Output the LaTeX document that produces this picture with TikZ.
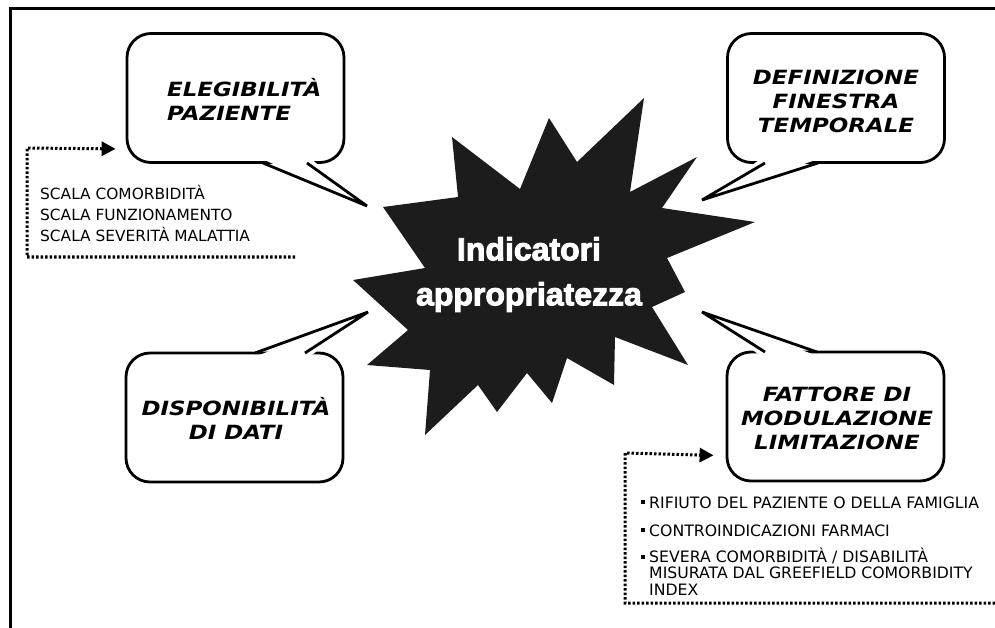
\documentclass[tikz,border=0pt]{standalone}
\usepackage{fontspec}
\usepackage{tikz}
\usetikzlibrary{positioning}
\usetikzlibrary{arrows.meta}
\newfontfamily\bubblefont[FakeStretch=1.17]{DejaVu Sans}
\newfontfamily\listfont{DejaVu Sans}
\newfontfamily\starfont[BoldFeatures={FakeBold=3}]{Liberation Sans}
\definecolor{burst}{RGB}{28,28,28}
\tikzstyle{every bubble} = []
\tikzstyle{bubble} = [draw, fill=white, rounded corners=24pt, line width=2.8pt, minimum width=217pt, minimum height=129pt, inner sep=0pt, every bubble]
\tikzstyle{bubbletail} = [draw, line width=2.8pt, line join=bevel]
\tikzstyle{tailfill} = [fill=white]
\tikzstyle{bubbletext} = [font=\bubblefont\bfseries\itshape\fontsize{19.6}{24}\selectfont, align=center, inner sep=0pt]
\tikzstyle{listtext} = [font=\listfont\fontsize{15.4}{21.2}\selectfont, align=left, inner sep=0pt]
\tikzstyle{itemtext} = [font=\listfont\fontsize{15.7}{16.5}\selectfont, align=left, inner sep=0pt]
\tikzstyle{dotlink} = [>={Triangle[length=14pt,width=14pt]}, draw, line width=3pt, dash pattern=on 2.5pt off 2pt, ->]
\newcommand{\sqbul}{\makebox[8pt][l]{\rule[3.6pt]{4pt}{4pt}}}

\begin{document}
\begin{tikzpicture}[x=1pt,y=-1pt]
\useasboundingbox (0,0) rectangle (995,628);
\draw[line width=3pt] (10,628) -- (10,9) -- (995,9);

\fill[burst] (452,137) -- (520,189) -- (549,118) -- (577,162) -- (644,98) -- (630,192)
  -- (697,157) -- (662,208) -- (755,222) -- (667,258) -- (685,292) -- (652,307)
  -- (688,365) -- (615,337) -- (614,385) -- (567,358) -- (552,403) -- (527,373)
  -- (497,412) -- (478,385) -- (425,435) -- (430,370) -- (367,365) -- (408,330)
  -- (353,280) -- (425,268) -- (383,207) -- (458,197) -- cycle;
\node[font=\starfont\bfseries\fontsize{32}{45}\selectfont, text=white, align=center, inner sep=0pt] (indicatori) at (529,274.5) {Indicatori\\appropriatezza};

\node[bubble] (elegibilita) at (235.5,98) {};
\fill[tailfill] (260,158) -- (367,206) -- (310,158);
\path[bubbletail] (263,163) -- (367,206) -- (307,163);
\node[bubbletext, align=left, anchor=west] (elegibilitatxt) at (167,99) {ELEGIBILIT\`A\\PAZIENTE};

\node[bubble] (finestra) at (836,98) {};
\fill[tailfill] (762,158) -- (702,200) -- (821,158);
\path[bubbletail] (765,163) -- (702,200) -- (818,163);
\node[bubbletext] (finestratxt) at (836,101) {DEFINIZIONE\\FINESTRA\\TEMPORALE};

\node[bubble] (dati) at (234.5,417.5) {};
\fill[tailfill] (252,358) -- (368,312) -- (308,358);
\path[bubbletail] (255,353) -- (368,312) -- (305,353);
\node[bubbletext] (datitxt) at (236,418) {DISPONIBILIT\`A\\DI DATI};

\node[bubble] (fattore) at (835.5,416.5) {};
\fill[tailfill] (762,357) -- (702,312) -- (820,357);
\path[bubbletail] (765,352) -- (702,312) -- (817,352);
\node[bubbletext] (fattoretxt) at (837,418) {FATTORE DI\\MODULAZIONE\\LIMITAZIONE};

\node[listtext, anchor=west] (scale) at (40,213.4) {SCALA COMORBIDIT\`A\\SCALA FUNZIONAMENTO\\SCALA SEVERIT\`A MALATTIA};
\coordinate (scaleend) at (295,257);
\coordinate (scalecorner) at (27,148);
\draw[dotlink] (scaleend) -| (scalecorner) -- ([shift={(-10,-15)}]elegibilita.south west);

\node[itemtext, anchor=base west] (rifiuto) at (641,508) {\sqbul RIFIUTO DEL PAZIENTE O DELLA FAMIGLIA};
\node[itemtext, anchor=base west] (farmaci) at (641,536) {\sqbul CONTROINDICAZIONI FARMACI};
\node[itemtext, anchor=west] (severa) at (641,571.4) {\sqbul SEVERA COMORBIDIT\`A / DISABILIT\`A\\\hspace*{8pt}MISURATA DAL GREEFIELD COMORBIDITY\\\hspace*{8pt}INDEX};
\coordinate (listend) at (995,603);
\coordinate (listcorner) at (625,453);
\draw[dotlink] (listend) -| (listcorner) -- ([shift={(-12,-27)}]fattore.south west);
\end{tikzpicture}
\end{document}
